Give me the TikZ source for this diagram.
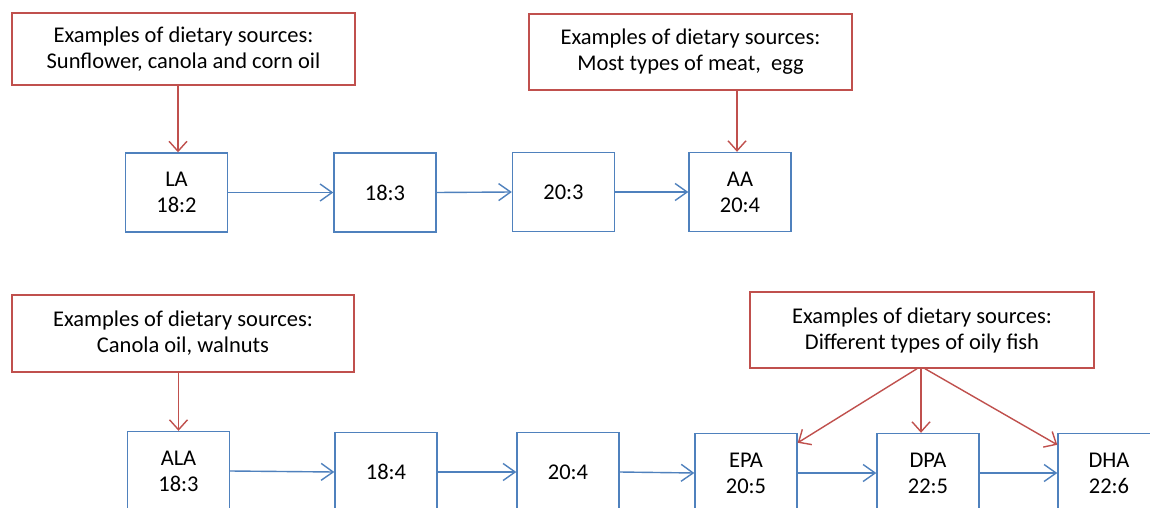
\documentclass[tikz,border=0pt]{standalone}
\usepackage{fontspec}
\setmainfont{Carlito}
\usetikzlibrary{arrows.meta,calc}
\definecolor{srcred}{RGB}{192,80,77}
\definecolor{faBlue}{RGB}{79,129,189}
\begin{document}
\begin{tikzpicture}[x=1pt,y=-1pt,
  txt/.style={font=\fontsize{22.5}{26}\selectfont,text=black,align=center,inner sep=0pt},
  srcbox/.style={txt,draw=srcred,line width=1.4pt},
  fabox/.style={txt,draw=faBlue,line width=1.4pt,minimum width=102pt,minimum height=79pt},
  srcarrow/.style={draw=srcred,line width=1.4pt,-{Straight Barb[length=10pt,width=18pt]}},
  flowarrow/.style={draw=faBlue,line width=1.4pt,-{Straight Barb[length=12pt,width=17pt]}}]
\fill[white] (0,0) rectangle (1150,508);
\useasboundingbox (0,0) rectangle (1150,508);
% top row
\node[srcbox,minimum width=343pt,minimum height=72pt] (src1) at (183.5,49) {Examples of dietary sources:\\Sunflower, canola and corn oil};
\node[srcbox,minimum width=323pt,minimum height=76pt] (src2) at (690.5,52) {Examples of dietary sources:\\Most types of meat,\ \ egg};
\node[fabox] (LA) at (176.5,192.5) {LA\\18:2};
\node[fabox] (t183) at (385,192.5) {18:3};
\node[fabox] (t203) at (563.5,192) {20:3};
\node[fabox] (AA) at (740,192) {AA\\20:4};
\draw[srcarrow] ($(src1.south -| LA.north)+(1.5,0)$) -- ($(LA.north)+(1.5,0)$);
\draw[srcarrow] ($(src2.south -| AA.north)+(-3,0)$) -- ($(AA.north)+(-3,0)$);
\draw[flowarrow] (LA.east) -- (t183.west);
\draw[flowarrow] (t183.east) -- (t203.west);
\draw[flowarrow] (t203.east) -- (AA.west);
% bottom row
\node[srcbox,minimum width=342pt,minimum height=77pt] (src3) at (183,333.5) {Examples of dietary sources:\\Canola oil, walnuts};
\node[srcbox,minimum width=344pt,minimum height=76pt] (src4) at (922,330) {Examples of dietary sources:\\Different types of oily fish};
\node[fabox] (ALA) at (178.5,471) {ALA\\18:3};
\node[fabox] (b184) at (386,472) {18:4};
\node[fabox] (b204) at (568,472) {20:4};
\node[fabox] (EPA) at (746,473) {EPA\\20:5};
\node[fabox] (DPA) at (928,473) {DPA\\22:5};
\node[fabox] (DHA) at (1109,473) {DHA\\22:6};
\draw[srcarrow] (src3.south -| ALA.north) -- (ALA.north);
\draw[srcarrow] ($(src4.south)+(-5,0)$) -- ($(EPA.north east)+(0,10)$);
\draw[srcarrow] ($(src4.south)+(-1,0)$) -- ($(src4.south |- DPA.north)+(-1,0)$);
\draw[srcarrow] ($(src4.south)+(3,0)$) -- ($(DHA.north west)+(0,12)$);
\draw[flowarrow] (ALA.east) -- (b184.west);
\draw[flowarrow] (b184.east) -- (b204.west);
\draw[flowarrow] (b204.east) -- (EPA.west);
\draw[flowarrow] (EPA.east) -- (DPA.west);
\draw[flowarrow] (DPA.east) -- (DHA.west);
\end{tikzpicture}
\end{document}
